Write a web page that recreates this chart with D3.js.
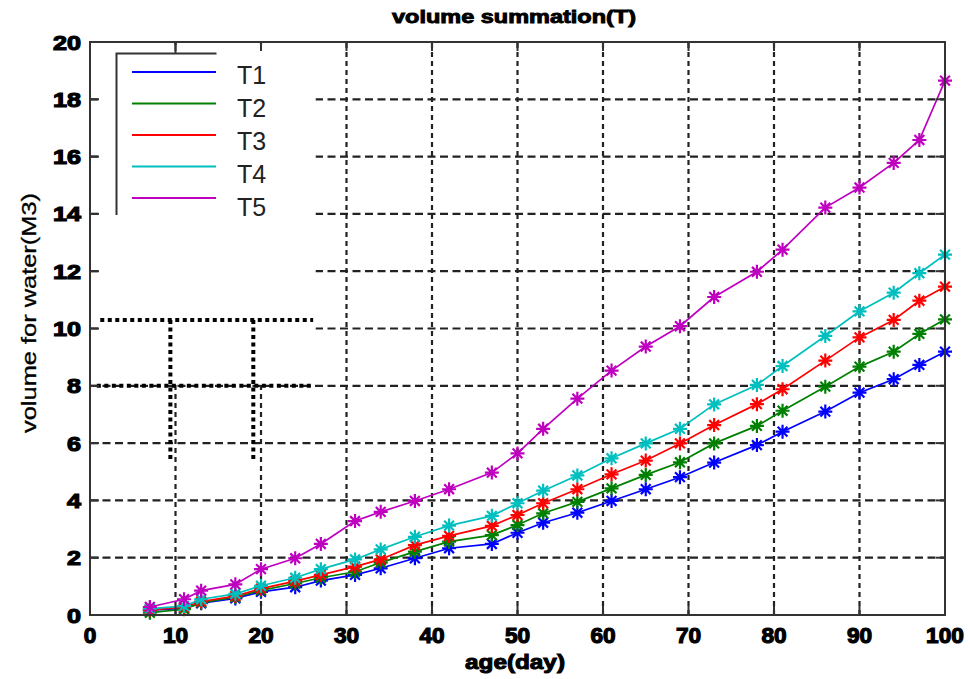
<!DOCTYPE html>
<html>
<head>
<meta charset="utf-8">
<script src="https://cdn.jsdelivr.net/npm/d3@7"></script>
<style>
  body { margin: 0; background: #fff; }
  text { font-family: "Liberation Sans", Arial, sans-serif; }
</style>
</head>
<body>
<script>
// age (day) at which each volume was measured
const days = [7, 11, 13, 17, 20, 24, 27, 31, 34, 38, 42, 47, 50, 53, 57, 61, 65, 69, 73, 78, 81, 86, 90, 94, 97, 100];

const seriesNames = ["T1", "T2", "T3", "T4", "T5"];
const t1 = [0.17, 0.23, 0.41, 0.58, 0.81, 0.97, 1.2, 1.4, 1.63, 1.98, 2.33, 2.48, 2.87, 3.22, 3.57, 3.98, 4.39, 4.81, 5.32, 5.93, 6.4, 7.1, 7.76, 8.23, 8.73, 9.19];
const t2 = [0.08, 0.2, 0.43, 0.62, 0.86, 1.1, 1.3, 1.51, 1.83, 2.21, 2.56, 2.79, 3.14, 3.55, 3.95, 4.42, 4.89, 5.33, 5.99, 6.6, 7.13, 7.97, 8.67, 9.19, 9.81, 10.32];
const t3 = [0.18, 0.27, 0.47, 0.66, 0.92, 1.18, 1.4, 1.69, 1.94, 2.44, 2.76, 3.11, 3.49, 3.9, 4.39, 4.91, 5.39, 5.99, 6.63, 7.36, 7.88, 8.88, 9.69, 10.3, 10.97, 11.46];
const t4 = [0.22, 0.31, 0.55, 0.74, 1.02, 1.3, 1.6, 1.94, 2.29, 2.73, 3.12, 3.46, 3.9, 4.34, 4.87, 5.47, 5.99, 6.5, 7.35, 8.03, 8.69, 9.74, 10.6, 11.25, 11.93, 12.58];
const t5 = [0.28, 0.55, 0.85, 1.07, 1.6, 1.98, 2.48, 3.28, 3.6, 3.98, 4.39, 4.97, 5.64, 6.5, 7.55, 8.53, 9.37, 10.08, 11.1, 11.98, 12.75, 14.22, 14.92, 15.78, 16.58, 18.65];
const seriesValues = [t1, t2, t3, t4, t5];

const xTicks = [0, 10, 20, 30, 40, 50, 60, 70, 80, 90, 100];
const yTicks = [0, 2, 4, 6, 8, 10, 12, 14, 16, 18, 20];

// leftover dotted guide lines and the blanked patch behind the legend (data units)
const guideH = [10.3, 8.0];
const guideV = [9.4, 19.1];

const color = ["#0000ff", "#008000", "#ff0000", "#00bfbf", "#bf00bf"];

const width = 970, height = 679;
const x = d3.scaleLinear().domain([0, 100]).range([90, 945]);
const y = d3.scaleLinear().domain([0, 20]).range([615, 42]);

const svg = d3.select("body").append("svg")
    .attr("width", width)
    .attr("height", height);

svg.append("rect").attr("width", width).attr("height", height).attr("fill", "#fff");

// grid
svg.append("g")
    .selectAll("line")
    .data(yTicks.slice(1, -1))
    .join("line")
    .attr("x1", x(0)).attr("x2", x(100))
    .attr("y1", d => y(d)).attr("y2", d => y(d))
    .attr("stroke", "#222").attr("stroke-width", 2.2)
    .attr("stroke-dasharray", "8,4.5");

svg.append("g")
    .selectAll("line")
    .data(xTicks.slice(1, -1))
    .join("line")
    .attr("x1", d => x(d)).attr("x2", d => x(d))
    .attr("y1", y(0)).attr("y2", y(20))
    .attr("stroke", "#222").attr("stroke-width", 2.2)
    .attr("stroke-dasharray", "5,4");

// white patch where the grid is missing
svg.append("rect")
    .attr("x", x(1.4)).attr("y", y(19.9))
    .attr("width", x(26.4) - x(1.4))
    .attr("height", y(8.06) - y(19.9))
    .attr("fill", "#fff");

// heavy dotted guides
svg.append("g")
    .selectAll("line")
    .data(guideH)
    .join("line")
    .attr("x1", (d, i) => x(i === 0 ? 1.2 : 0.8)).attr("x2", x(26.1))
    .attr("y1", d => y(d)).attr("y2", d => y(d))
    .attr("stroke", "#000").attr("stroke-width", 4)
    .attr("stroke-dasharray", "4,3.5");

svg.append("g")
    .selectAll("line")
    .data(guideV)
    .join("line")
    .attr("x1", d => x(d)).attr("x2", d => x(d))
    .attr("y1", y(guideH[0])).attr("y2", y(5.4))
    .attr("stroke", "#000").attr("stroke-width", 4)
    .attr("stroke-dasharray", "4,3.5");

// series
const r = 7;
const star = `M${-r},0H${r}M0,${-r}V${r}M${-0.7 * r},${-0.7 * r}L${0.7 * r},${0.7 * r}M${-0.7 * r},${0.7 * r}L${0.7 * r},${-0.7 * r}`;

const line = d3.line()
    .x((d, i) => x(days[i]))
    .y(d => y(d));

seriesValues.forEach(function (vals, k) {
    const g = svg.append("g");
    g.append("path")
        .attr("d", line(vals))
        .attr("fill", "none")
        .attr("stroke", color[k])
        .attr("stroke-width", 1.7);
    g.selectAll("path.mk")
        .data(vals)
        .join("path")
        .attr("class", "mk")
        .attr("d", star)
        .attr("transform", (d, i) => `translate(${x(days[i])},${y(d)})`)
        .attr("stroke", color[k])
        .attr("stroke-width", 2.2)
        .attr("fill", "none");
});

// axes box and inner ticks
svg.append("rect")
    .attr("x", x(0)).attr("y", y(20))
    .attr("width", x(100) - x(0)).attr("height", y(0) - y(20))
    .attr("fill", "none").attr("stroke", "#333").attr("stroke-width", 2);

const tl = 9;
const ticks = svg.append("g").attr("stroke", "#333").attr("stroke-width", 2);
ticks.selectAll("line.xb").data(xTicks).join("line").attr("class", "xb")
    .attr("x1", d => x(d)).attr("x2", d => x(d))
    .attr("y1", y(0)).attr("y2", y(0) - tl);
ticks.selectAll("line.xt").data(xTicks).join("line").attr("class", "xt")
    .attr("x1", d => x(d)).attr("x2", d => x(d))
    .attr("y1", y(20)).attr("y2", y(20) + tl);
ticks.selectAll("line.yl").data(yTicks).join("line").attr("class", "yl")
    .attr("x1", x(0)).attr("x2", x(0) + tl)
    .attr("y1", d => y(d)).attr("y2", d => y(d));
ticks.selectAll("line.yr").data(yTicks).join("line").attr("class", "yr")
    .attr("x1", x(100)).attr("x2", x(100) - tl)
    .attr("y1", d => y(d)).attr("y2", d => y(d));

// tick labels
svg.append("g")
    .selectAll("text")
    .data(xTicks)
    .join("text")
    .attr("x", d => x(d))
    .attr("y", 643)
    .attr("text-anchor", "middle")
    .attr("font-size", 22)
    .attr("font-weight", "bold")
    .attr("stroke", "#000").attr("stroke-width", 1.2)
    .attr("textLength", d => String(d).length * 12.6)
    .attr("lengthAdjust", "spacingAndGlyphs")
    .text(d => d);

svg.append("g")
    .selectAll("text")
    .data(yTicks)
    .join("text")
    .attr("x", 81)
    .attr("y", d => y(d) + 7.5)
    .attr("text-anchor", "end")
    .attr("font-size", 21)
    .attr("font-weight", "bold")
    .attr("stroke", "#000").attr("stroke-width", 1.2)
    .attr("textLength", d => String(d).length * 14)
    .attr("lengthAdjust", "spacingAndGlyphs")
    .text(d => d);

// legend
const legend = svg.append("g");
legend.append("path")
    .attr("d", `M116.5,215V53.5H216.5`)
    .attr("fill", "none").attr("stroke", "#333").attr("stroke-width", 2);
legend.append("line")
    .attr("x1", x(10)).attr("x2", x(10))
    .attr("y1", y(20)).attr("y2", 53.5)
    .attr("stroke", "#333").attr("stroke-width", 2);
legend.selectAll("line.lg")
    .data(seriesNames)
    .join("line")
    .attr("class", "lg")
    .attr("x1", 132).attr("x2", 216)
    .attr("y1", (d, i) => 72 + i * 31.5).attr("y2", (d, i) => 72 + i * 31.5)
    .attr("stroke", (d, i) => color[i])
    .attr("stroke-width", 2);
legend.selectAll("text")
    .data(seriesNames)
    .join("text")
    .attr("x", 237)
    .attr("y", (d, i) => 83.5 + i * 33)
    .attr("font-size", 25)
    .attr("fill", "#222")
    .text(d => d);

// titles
svg.append("text")
    .attr("x", 514).attr("y", 23)
    .attr("text-anchor", "middle")
    .attr("font-size", 18)
    .attr("font-weight", "bold")
    .attr("stroke", "#000").attr("stroke-width", 0.9)
    .attr("textLength", 244)
    .attr("lengthAdjust", "spacingAndGlyphs")
    .text("volume summation(T)");

svg.append("text")
    .attr("x", 515).attr("y", 669)
    .attr("text-anchor", "middle")
    .attr("font-size", 20)
    .attr("font-weight", "bold")
    .attr("stroke", "#000").attr("stroke-width", 1)
    .attr("textLength", 100)
    .attr("lengthAdjust", "spacingAndGlyphs")
    .text("age(day)");

svg.append("text")
    .attr("transform", "translate(36,313) rotate(-90)")
    .attr("text-anchor", "middle")
    .attr("font-size", 20)
    .attr("stroke", "#000").attr("stroke-width", 0.3)
    .attr("textLength", 240)
    .attr("lengthAdjust", "spacingAndGlyphs")
    .text("volume for water(M3)");
</script>
</body>
</html>
